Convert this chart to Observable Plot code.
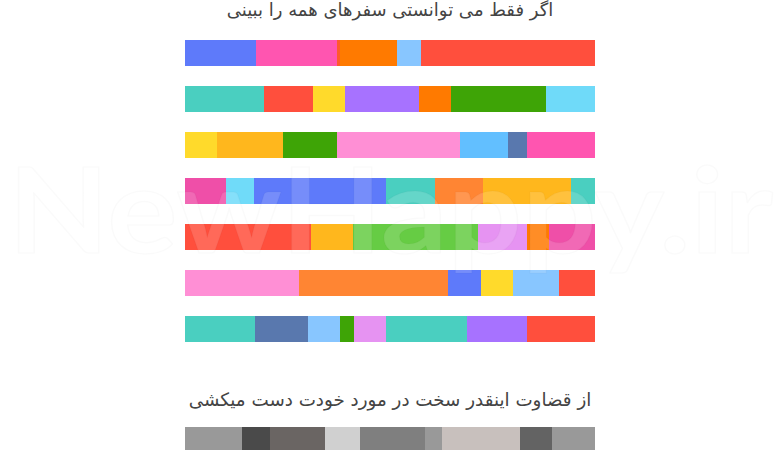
<!DOCTYPE html>
<html><head><meta charset="utf-8">
<script src="https://cdn.jsdelivr.net/npm/d3@7"></script>
<script src="https://cdn.jsdelivr.net/npm/@observablehq/plot@0.6"></script>
<style>
body{margin:0;background:#fff;overflow:hidden}
#wrap{position:relative;width:780px;height:450px;overflow:hidden;background:#fff}
.t{position:absolute;left:0;width:780px;text-align:center;font-family:"DejaVu Sans",sans-serif;color:#444;direction:rtl;line-height:20px;white-space:nowrap}
#c1{position:absolute;left:0;top:0}
#c2{position:absolute;left:0;top:427px}
</style></head><body>
<div id="wrap">
  <div id="c1"></div>
  <div class="t" id="title" style="top:0px;font-size:18px"></div>
  <div class="t" id="sub" style="top:390px;font-size:18.3px"></div>
  <div id="c2"></div>
</div>
<script>
const titleText = "اگر فقط می توانستی سفرهای همه را ببینی";
const subText = "از قضاوت اینقدر سخت در مورد خودت دست میکشی";
const watermark = "NewHappy.ir";

const rowNames = ["r1","r2","r3","r4","r5","r6","r7"];
const rowValues = [
  [71, 81, 3, 57, 24, 174],
  [79, 49, 32, 74, 32, 95, 49],
  [32, 66, 54, 123, 48, 19, 68],
  [41, 28, 132, 49, 48, 88, 24],
  [126, 42, 125, 49, 22, 46],
  [114, 149, 33, 32, 46, 36],
  [70, 53, 32, 14, 32, 81, 60, 68]
];
const rowColors = [
  ["#5e7afa","#ff55b0","#ff5a2a","#ff7a00","#88c6ff","#ff4f3d"],
  ["#4acfc0","#ff4f3d","#ffda2b","#a772ff","#ff7a00","#3ea406","#6fdaf9"],
  ["#ffda2b","#ffb71d","#3ea406","#ff8fd5","#62bfff","#5978ae","#ff55b0"],
  ["#ef4fa8","#70dbf9","#5e7afa","#4acfc0","#ff8533","#ffb71d","#4acfc0"],
  ["#ff4f3d","#ffb71d","#66cc44","#e693f2","#ff7a00","#ef4fa8"],
  ["#ff8fd5","#ff8533","#5e7afa","#ffda2b","#88c6ff","#ff4f3d"],
  ["#4acfc0","#5978ae","#88c6ff","#3ea406","#e693f2","#4acfc0","#a772ff","#ff4f3d"]
];
const grayValues = [57, 28, 55, 35, 65, 17, 78, 32, 43];
const grayColors = ["#999999","#4a4a4a","#6a6563","#d0d0d0","#7f7f7f","#999999","#c8c0bd","#636363","#999999"];
const xMax = 410;

document.getElementById("title").textContent = titleText;
document.getElementById("sub").textContent = subText;

const table = [];
rowNames.forEach((r, i) => rowValues[i].forEach((v, j) => table.push({row: r, seg: j, value: v, color: rowColors[i][j]})));

const chart1 = Plot.plot({
  width: 780, height: 380,
  marginLeft: 185, marginRight: 185, marginTop: 37.5, marginBottom: 36,
  x: {domain: [0, xMax], axis: null},
  y: {domain: rowNames, axis: null, paddingInner: 0.444, paddingOuter: 0},
  color: {type: "identity"},
  marks: [
    Plot.barX(table, Plot.stackX({y: "row", x: "value", fill: "color", order: null})),
    Plot.text([watermark], {frameAnchor: "middle", text: d => d, dy: 24, fontSize: 118, fill: "white", fillOpacity: 0.15, stroke: "#000", strokeOpacity: 0.018, strokeWidth: 1.5, fontFamily: "Lato, sans-serif", fontWeight: "bold"})
  ]
});
document.getElementById("c1").appendChild(chart1);
const wm = chart1.querySelector("text");
if (wm) { wm.setAttribute("textLength", "765"); wm.setAttribute("lengthAdjust", "spacingAndGlyphs"); }

const grayTable = grayValues.map((v, j) => ({row: "g", seg: j, value: v, color: grayColors[j]}));
const chart2 = Plot.plot({
  width: 780, height: 26,
  marginLeft: 185, marginRight: 185, marginTop: 0, marginBottom: 0,
  x: {domain: [0, xMax], axis: null},
  y: {domain: ["g"], axis: null, padding: 0},
  color: {type: "identity"},
  marks: [
    Plot.barX(grayTable, Plot.stackX({y: "row", x: "value", fill: "color", order: null}))
  ]
});
document.getElementById("c2").appendChild(chart2);
</script>
</body></html>
